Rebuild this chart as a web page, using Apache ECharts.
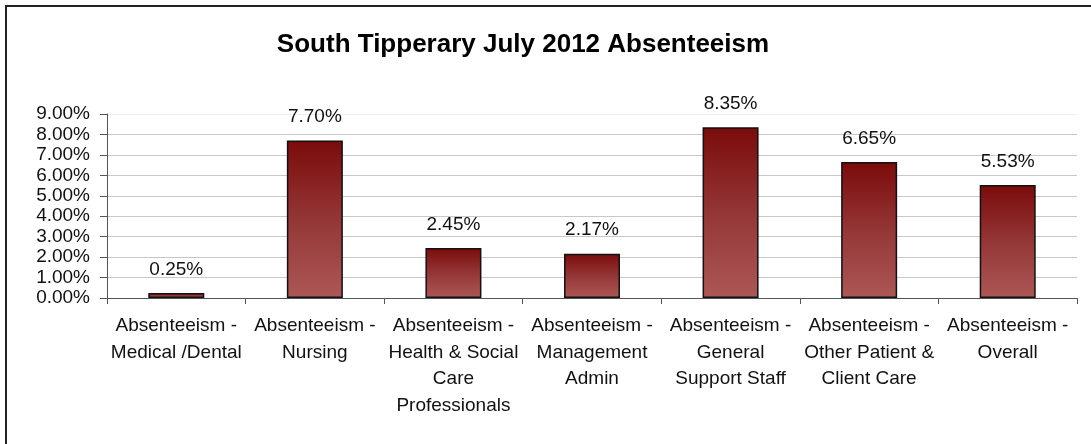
<!DOCTYPE html>
<html>
<head>
<meta charset="utf-8">
<script src="https://cdn.jsdelivr.net/npm/echarts@6/dist/echarts.min.js"></script>
<style>
  html, body { margin: 0; padding: 0; background: #fff; }
  #chart { width: 1091px; height: 444px; }
</style>
</head>
<body>
<div id="chart"></div>
<script>
// categories (line breaks as in the original labels)
const categories = [
  'Absenteeism -\nMedical /Dental',
  'Absenteeism -\nNursing',
  'Absenteeism -\nHealth & Social\nCare\nProfessionals',
  'Absenteeism -\nManagement\nAdmin',
  'Absenteeism -\nGeneral\nSupport Staff',
  'Absenteeism -\nOther Patient &\nClient Care',
  'Absenteeism -\nOverall'
]
// absenteeism rate in percent
const rates = [0.25, 7.70, 2.45, 2.17, 8.35, 6.65, 5.53]
const yTicks = { min: 0, max: 9, step: 1 }

const font = '"Liberation Sans", Arial, sans-serif'
const chart = echarts.init(document.getElementById('chart'))

const option = {
  animation: false,
  backgroundColor: '#fff',
  textStyle: { fontFamily: font },
  title: {
    text: 'South Tipperary July 2012 Absenteeism',
    left: 518,
    top: 27,
    textAlign: 'center',
    textStyle: { fontFamily: font, fontSize: 26, fontWeight: 'bold', color: '#000' },
  },
  graphic: [
    {
      // chart frame: only the top and left edges fall inside the picture
      type: 'rect',
      shape: { x: 6, y: 6, width: 3000, height: 3000 },
      style: { fill: 'none', stroke: '#222', lineWidth: 2 },
      silent: true,
    },
  ],
  grid: { left: 107, right: 14, top: 114, bottom: 146 },
  xAxis: {
    type: 'category',
    data: categories,
    axisLine: { lineStyle: { color: '#555', width: 1 } },
    axisTick: { show: true, length: 6, lineStyle: { color: '#555' } },
    axisLabel: {
      interval: 0,
      margin: 15,
      fontSize: 19,
      lineHeight: 26.5,
      color: '#111',
      fontFamily: font,
    },
  },
  yAxis: {
    type: 'value',
    min: yTicks.min,
    max: yTicks.max,
    interval: yTicks.step,
    axisLine: { show: true, lineStyle: { color: '#555' } },
    axisTick: { show: true, length: 7, lineStyle: { color: '#555' } },
    axisLabel: {
      margin: 17,
      fontSize: 19,
      color: '#111',
      fontFamily: font,
      formatter: (v) => v.toFixed(2) + '%',
    },
    splitLine: {
      show: true,
      lineStyle: {
        color: ['#c8c8c8', '#c8c8c8', '#c8c8c8', '#c8c8c8', '#c8c8c8',
          '#c8c8c8', '#c8c8c8', '#c8c8c8', '#c8c8c8', '#f0f0f0'],
        width: 1,
      },
    },
  },
  series: [
    {
      type: 'bar',
      data: rates,
      barWidth: 56,
      itemStyle: {
        color: new echarts.graphic.LinearGradient(0, 0, 0, 1, [
          { offset: 0, color: '#7b0b0b' },
          { offset: 0.5, color: '#943636' },
          { offset: 1, color: '#ad5757' },
        ]),
        borderColor: '#111',
        borderWidth: 1.5,
      },
      label: {
        show: true,
        position: 'top',
        distance: 14,
        fontSize: 19,
        color: '#111',
        fontFamily: font,
        formatter: (p) => p.value.toFixed(2) + '%',
      },
    },
  ],
}

option && chart.setOption(option)
</script>
</body>
</html>
